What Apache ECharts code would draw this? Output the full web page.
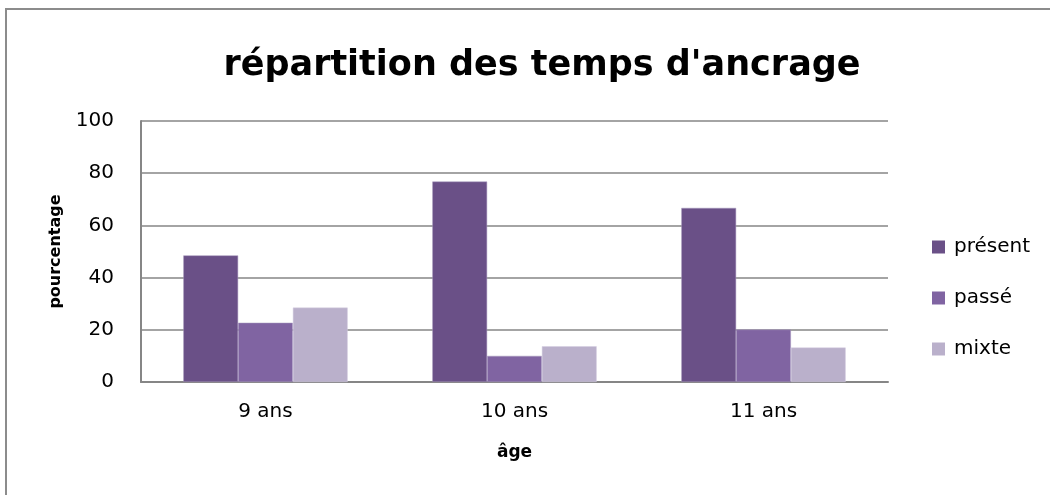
<!DOCTYPE html>
<html>
<head>
<meta charset="utf-8">
<script src="https://cdn.jsdelivr.net/npm/echarts@6/dist/echarts.min.js"></script>
<style>
  html, body { margin: 0; padding: 0; background: #fff; }
  #chart { position: absolute; left: 0; top: 0; width: 1050px; height: 495px; }
  #frame { position: absolute; left: 5px; top: 8px; width: 1100px; height: 600px;
           border-left: 2px solid #8c8c8c; border-top: 2px solid #8c8c8c; pointer-events: none; }
</style>
</head>
<body>
<div id="chart"></div>
<div id="frame"></div>
<script>
var categories = ['9 ans', '10 ans', '11 ans'];
var present = [48.5, 76.8, 66.7];
var passe = [22.7, 10, 20.1];
var mixte = [28.5, 13.7, 13.2];

var font = '"DejaVu Sans", "Noto Sans", sans-serif';

var myChart = echarts.init(document.getElementById('chart'));
var option = {
    animation: false,
    title: {
        text: "répartition des temps d'ancrage",
        left: 537,
        textAlign: 'center',
        top: 43,
        textStyle: { fontFamily: font, fontSize: 35, fontWeight: 'bold', color: '#000' }
    },
    legend: {
        orient: 'vertical',
        left: 927,
        top: 232,
        itemWidth: 13,
        itemHeight: 13,
        itemGap: 31,
        icon: 'rect',
        itemStyle: { borderWidth: 0 },
        textStyle: { fontFamily: font, fontSize: 20, color: '#000', padding: [0, 0, 0, 4] },
        data: ['présent', 'passé', 'mixte']
    },
    grid: { left: 141, top: 121, right: 162, bottom: 113 },
    xAxis: {
        type: 'category',
        data: categories,
        name: 'âge',
        nameLocation: 'middle',
        nameGap: 62,
        nameTextStyle: { fontFamily: font, fontSize: 17, fontWeight: 'bold', color: '#000' },
        axisLine: { lineStyle: { color: '#868686', width: 2 } },
        axisTick: { show: false },
        axisLabel: { fontFamily: font, fontSize: 20, color: '#000', margin: 20 }
    },
    yAxis: {
        type: 'value',
        min: 0,
        max: 100,
        interval: 20,
        name: 'pourcentage',
        nameLocation: 'middle',
        nameGap: 77,
        nameTextStyle: { fontFamily: font, fontSize: 16, fontWeight: 'bold', color: '#000' },
        axisLine: { show: true, lineStyle: { color: '#868686', width: 2 } },
        axisTick: { show: false },
        splitLine: { lineStyle: { color: '#868686', width: 1.5 } },
        axisLabel: { fontFamily: font, fontSize: 20, color: '#000', margin: 27 }
    },
    series: [
        { name: 'présent', type: 'bar', data: present, barGap: '0%', barCategoryGap: '34%',
          itemStyle: { color: '#6a5087', borderColor: '#a699bd', borderWidth: 0.5 } },
        { name: 'passé', type: 'bar', data: passe,
          itemStyle: { color: '#8064a2', borderColor: '#a699bd', borderWidth: 0.5 } },
        { name: 'mixte', type: 'bar', data: mixte,
          itemStyle: { color: '#bab0cb', borderColor: '#d4cde0', borderWidth: 0.5 } }
    ]
};
myChart.setOption(option);
</script>
</body>
</html>
